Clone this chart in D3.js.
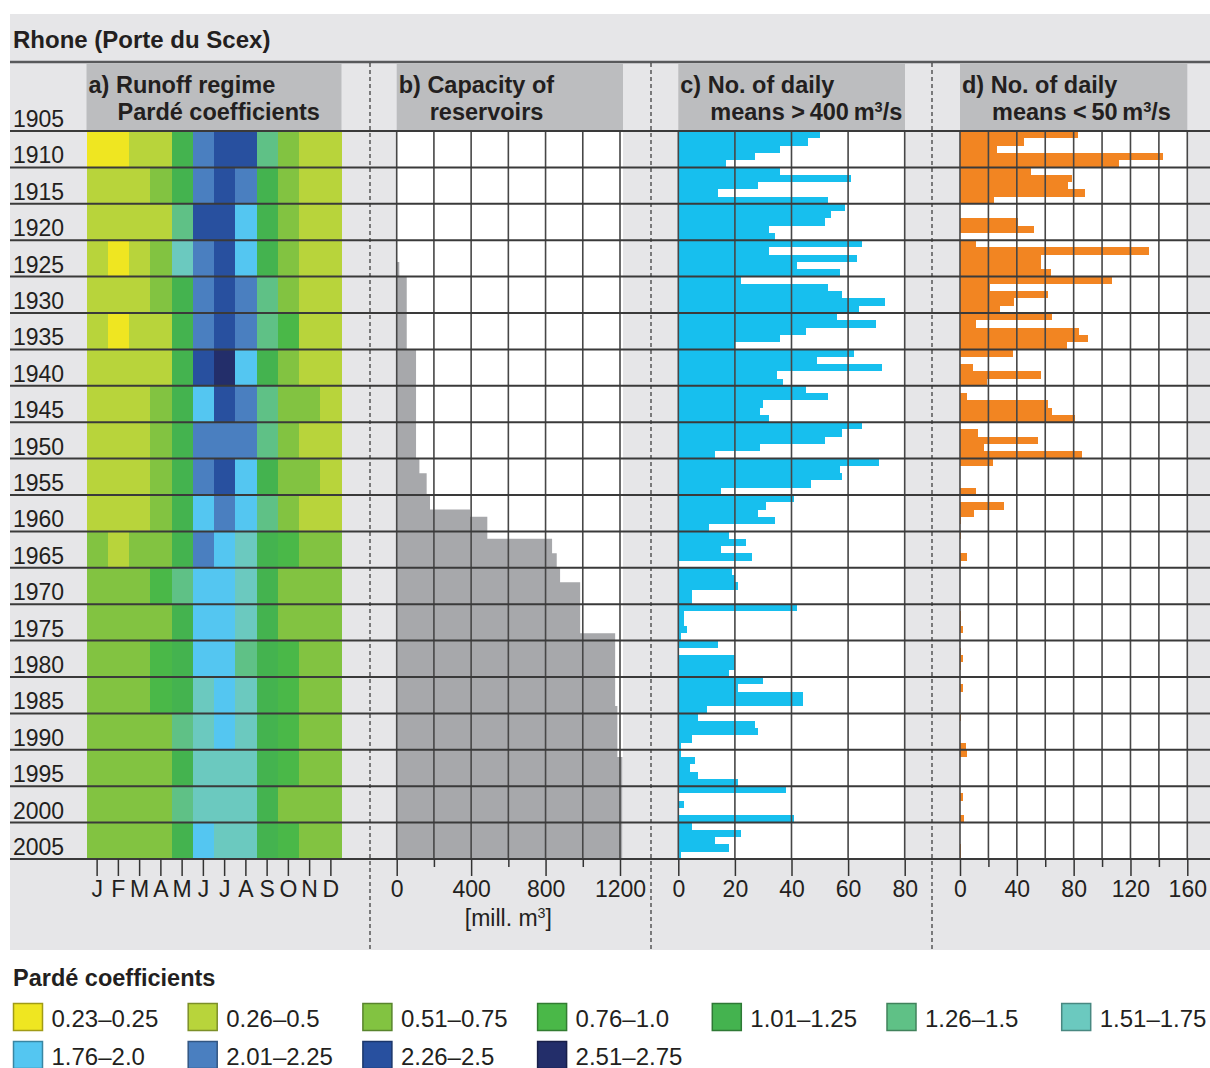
<!DOCTYPE html>
<html>
<head>
<meta charset="utf-8">
<script src="https://cdn.jsdelivr.net/npm/d3@7"></script>
<style>
  html, body { margin: 0; padding: 0; background: #ffffff; }
  svg { display: block; font-family: "Liberation Sans", Arial, Helvetica, sans-serif; }
</style>
</head>
<body>
<svg id="chart" width="1210" height="1068"></svg>
<script>
// ---------------------------------------------------------------------------
// Data
// ---------------------------------------------------------------------------
const monthLabels = ["J", "F", "M", "A", "M", "J", "J", "A", "S", "O", "N", "D"];
const periodTicks = d3.range(1905, 2006, 5);          // 1905, 1910, … 2005
const years = d3.range(1906, 2006);                   // 1906 … 2005

// Pardé coefficient classes
const pardeBreaks = [0.255, 0.505, 0.755, 1.005, 1.255, 1.505, 1.755, 2.005, 2.255, 2.505];
const pardeClassLabels = ["0.23–0.25", "0.26–0.5", "0.51–0.75", "0.76–1.0", "1.01–1.25",
  "1.26–1.5", "1.51–1.75", "1.76–2.0", "2.01–2.25", "2.26–2.5", "2.51–2.75"];
const pardeColors = ["#efe621", "#b8d43b", "#82c341", "#4ab848", "#44b34f",
  "#5fc186", "#6bc9bf", "#54c6f1", "#4a7fc0", "#28509f", "#232e6a"];

// Monthly Pardé coefficients (Jan–Dec) for each 5-year period 1906–1910 … 2001–2005
const pardeCoefficients = [
  [0.24, 0.24, 0.40, 0.40, 1.15, 2.10, 2.40, 2.40, 1.40, 0.65, 0.40, 0.40],
  [0.40, 0.40, 0.40, 0.65, 1.15, 2.10, 2.40, 2.10, 1.15, 0.65, 0.40, 0.40],
  [0.40, 0.40, 0.40, 0.40, 1.40, 2.40, 2.40, 1.90, 1.15, 0.65, 0.40, 0.40],
  [0.40, 0.24, 0.40, 0.65, 1.60, 2.10, 2.40, 1.90, 1.15, 0.65, 0.40, 0.40],
  [0.40, 0.40, 0.40, 0.65, 1.15, 2.10, 2.40, 2.10, 1.40, 0.65, 0.40, 0.40],
  [0.40, 0.24, 0.40, 0.40, 1.15, 2.10, 2.40, 2.10, 1.40, 0.90, 0.40, 0.40],
  [0.40, 0.40, 0.40, 0.40, 1.15, 2.40, 2.60, 1.90, 1.15, 0.65, 0.40, 0.40],
  [0.40, 0.40, 0.40, 0.65, 1.15, 1.90, 2.40, 2.10, 1.40, 0.65, 0.65, 0.40],
  [0.40, 0.40, 0.40, 0.65, 1.15, 2.10, 2.10, 2.10, 1.40, 0.65, 0.40, 0.40],
  [0.40, 0.40, 0.40, 0.65, 1.15, 2.10, 2.40, 1.90, 1.15, 0.65, 0.65, 0.40],
  [0.40, 0.40, 0.40, 0.65, 1.15, 1.90, 2.10, 1.90, 1.40, 0.65, 0.40, 0.40],
  [0.65, 0.40, 0.65, 0.65, 1.15, 2.10, 1.90, 1.60, 1.15, 0.90, 0.65, 0.65],
  [0.65, 0.65, 0.65, 0.90, 1.40, 1.90, 1.90, 1.60, 1.15, 0.65, 0.65, 0.65],
  [0.65, 0.65, 0.65, 0.65, 1.15, 1.90, 1.90, 1.60, 1.15, 0.65, 0.65, 0.65],
  [0.65, 0.65, 0.65, 0.90, 1.15, 1.90, 1.90, 1.40, 1.15, 0.90, 0.65, 0.65],
  [0.65, 0.65, 0.65, 0.90, 1.15, 1.60, 1.90, 1.60, 1.15, 0.90, 0.65, 0.65],
  [0.65, 0.65, 0.65, 0.65, 1.40, 1.60, 1.90, 1.60, 1.15, 0.90, 0.65, 0.65],
  [0.65, 0.65, 0.65, 0.65, 1.15, 1.60, 1.60, 1.60, 1.15, 0.90, 0.65, 0.65],
  [0.65, 0.65, 0.65, 0.65, 1.40, 1.60, 1.60, 1.60, 1.15, 0.65, 0.65, 0.65],
  [0.65, 0.65, 0.65, 0.65, 1.15, 1.90, 1.60, 1.60, 1.15, 0.90, 0.65, 0.65]
];

// Storage capacity of reservoirs in the catchment [mill. m³], 1906 … 2005
const reservoirCapacity = [
  0, 0, 0, 0, 0, 0, 0, 0, 0, 0,
  0, 0, 0, 0, 0, 0, 0, 0, 14, 14,
  54, 54, 54, 54, 54, 54, 54, 54, 54, 54,
  104, 104, 104, 104, 104, 104, 104, 104, 104, 104,
  104, 104, 104, 104, 104, 122, 122, 161, 161, 161,
  179, 179, 394, 487, 487, 487, 835, 835, 860, 860,
  878, 878, 986, 986, 986, 986, 986, 986, 986, 1174,
  1174, 1174, 1174, 1174, 1174, 1174, 1174, 1174, 1174, 1186,
  1186, 1186, 1186, 1186, 1186, 1186, 1213, 1213, 1213, 1213,
  1213, 1213, 1213, 1213, 1213, 1213, 1213, 1213, 1213, 1213
];

// Number of daily means > 400 m³/s per year, 1906 … 2005
const daysAbove400 = [
  50, 46, 36, 27, 17,   36, 61, 28, 14, 53,
  59, 54, 52, 32, 34,   65, 32, 63, 42, 57,
  22, 53, 58, 73, 64,   56, 70, 45, 36, 20,
  62, 49, 72, 35, 37,   45, 53, 30, 29, 32,
  65, 58, 52, 29, 13,   71, 57, 58, 47, 15,
  41, 31, 28, 34, 11,   18, 24, 15, 26, 0,
  19, 20, 21, 5, 5,     42, 2, 2, 3, 1,
  14, 0, 20, 20, 18,    30, 21, 44, 44, 10,
  7, 27, 28, 5, 1,      1, 6, 4, 7, 21,
  38, 0, 2, 0, 41,      5, 22, 13, 18, 1
];

// Number of daily means < 50 m³/s per year, 1906 … 2005
const daysBelow50 = [
  83, 45, 26, 143, 112, 50, 79, 76, 88, 24,
  0, 0, 41, 52, 0,      11, 133, 57, 57, 64,
  107, 21, 62, 38, 28,  65, 11, 84, 90, 75,
  37, 0, 9, 57, 19,     0, 5, 62, 65, 81,
  0, 13, 55, 17, 86,    23, 0, 0, 0, 11,
  0, 31, 10, 1, 0,      1, 0, 0, 5, 1,
  0, 0, 0, 0, 0,        0, 1, 1, 2, 0,
  0, 1, 2, 1, 0,        0, 2, 0, 0, 0,
  1, 0, 0, 0, 4,        5, 0, 0, 0, 0,
  0, 2, 0, 0, 3,        0, 0, 0, 1, 1
];

const capacityTicks = [0, 400, 800, 1200];
const capacityMinorTicks = [200, 600, 1000];
const highFlowTicks = [0, 20, 40, 60, 80];
const lowFlowTicks = [0, 40, 80, 120, 160];
const lowFlowMinorTicks = [20, 60, 100, 140];

// ---------------------------------------------------------------------------
// Layout and scales
// ---------------------------------------------------------------------------
const svg = d3.select("#chart");
const textColor = "#231f20";
const gridColor = "#474747";
const plotTop = 131, plotBottom = 859;

const y = d3.scaleLinear().domain([1905, 2005]).range([plotTop, plotBottom]);
const xMonth = d3.scaleBand().domain(d3.range(12)).range([86.5, 341.5]);
const xCap = d3.scaleLinear().domain([0, 1200]).range([396.7, 620]);
const xHigh = d3.scaleLinear().domain([0, 80]).range([678.3, 904.7]);
const xLow = d3.scaleLinear().domain([0, 160]).range([960, 1187.3]);
const pardeColor = d3.scaleThreshold().domain(pardeBreaks).range(pardeColors);

// Grey page backdrop
svg.append("rect").attr("x", 10).attr("y", 14).attr("width", 1200).attr("height", 936)
  .attr("fill", "#e6e6e8");

// Title
svg.append("text").attr("x", 13).attr("y", 48)
  .attr("font-size", 24).attr("font-weight", "bold").attr("fill", textColor)
  .text("Rhone (Porte du Scex)");
svg.append("line").attr("x1", 10).attr("x2", 1210).attr("y1", 62).attr("y2", 62)
  .attr("stroke", "#58595b").attr("stroke-width", 2.5);

// Panel headers
const headers = [
  { x0: 86.5, x1: 341.5, line1: [["a) Runoff regime"]], line2: [["Pardé coefficients"]], indent: 31 },
  { x0: 396.7, x1: 623, line1: [["b) Capacity of"]], line2: [["reservoirs"]], indent: 33 },
  { x0: 678.3, x1: 905, line1: [["c) No. of daily"]], line2: [["means >\u2009400\u2009m"], ["3", "sup"], ["/s", "after"]], indent: 32 },
  { x0: 960, x1: 1187.3, line1: [["d) No. of daily"]], line2: [["means <\u200950\u2009m"], ["3", "sup"], ["/s", "after"]], indent: 32 }
];

function writeParts(textSel, parts) {
  parts.forEach(([t, kind]) => {
    const ts = textSel.append("tspan").text(t);
    if (kind === "sup") ts.attr("font-size", "0.62em").attr("dy", "-0.55em");
    if (kind === "after") ts.attr("dy", "0.34em");
  });
}

headers.forEach(h => {
  svg.append("rect").attr("x", h.x0).attr("y", 63.5).attr("width", h.x1 - h.x0).attr("height", 66.5)
    .attr("fill", "#bcbdbf");
  const t1 = svg.append("text").attr("x", h.x0 + 2).attr("y", 93)
    .attr("font-size", 23.5).attr("font-weight", "bold").attr("fill", textColor);
  writeParts(t1, h.line1);
  const t2 = svg.append("text").attr("x", h.x0 + h.indent).attr("y", 120)
    .attr("font-size", 23.5).attr("font-weight", "bold").attr("fill", textColor);
  writeParts(t2, h.line2);
});

// White plotting areas for panels b–d
[[396.7, 623], [678.3, 904.7], [960, 1187.3]].forEach(([a, b]) => {
  svg.append("rect").attr("x", a).attr("y", plotTop).attr("width", b - a)
    .attr("height", plotBottom - plotTop).attr("fill", "#ffffff");
});

// ---------------------------------------------------------------------------
// a) Runoff regime – Pardé coefficients per period and month
// ---------------------------------------------------------------------------
const cells = [];
pardeCoefficients.forEach((row, p) => {
  row.forEach((v, m) => cells.push({ start: periodTicks[p], month: m, value: v }));
});
svg.append("g").attr("shape-rendering", "crispEdges")
  .selectAll("rect").data(cells).join("rect")
  .attr("x", d => xMonth(d.month))
  .attr("y", d => y(d.start))
  .attr("width", xMonth.bandwidth())
  .attr("height", d => y(d.start + 5) - y(d.start))
  .attr("fill", d => pardeColor(d.value));

// ---------------------------------------------------------------------------
// b) Reservoir capacity (step area)
// ---------------------------------------------------------------------------
const capSteps = years.map((yr, i) => ({ pos: y(yr - 1), v: reservoirCapacity[i] }));
capSteps.push({ pos: y(2005), v: reservoirCapacity[reservoirCapacity.length - 1] });
svg.append("path").datum(capSteps)
  .attr("fill", "#a7a8ab")
  .attr("d", d3.area().y(d => d.pos).x0(xCap(0)).x1(d => xCap(d.v)).curve(d3.curveStepBefore));

// ---------------------------------------------------------------------------
// c) and d) Annual counts of high- and low-flow days
// ---------------------------------------------------------------------------
function yearBars(values, scale, fill) {
  svg.append("g").attr("shape-rendering", "crispEdges")
    .selectAll("rect").data(years.map((yr, i) => ({ yr, v: values[i] })).filter(d => d.v > 0))
    .join("rect")
    .attr("x", scale(0))
    .attr("y", d => y(d.yr - 1))
    .attr("width", d => scale(d.v) - scale(0))
    .attr("height", d => y(d.yr) - y(d.yr - 1))
    .attr("fill", fill);
}
yearBars(daysAbove400, xHigh, "#17bfee");
yearBars(daysBelow50, xLow, "#f28522");

// ---------------------------------------------------------------------------
// Grid lines
// ---------------------------------------------------------------------------
const vGrid = [
  ...d3.range(0, 1201, 200).map(v => xCap(v)),
  ...highFlowTicks.map(v => xHigh(v)),
  ...d3.range(0, 161, 20).map(v => xLow(v))
];
svg.append("g").selectAll("line").data(vGrid).join("line")
  .attr("x1", d => d).attr("x2", d => d)
  .attr("y1", plotTop).attr("y2", plotBottom)
  .attr("stroke", gridColor).attr("stroke-width", 1.6);

svg.append("g").selectAll("line").data(periodTicks).join("line")
  .attr("x1", 10).attr("x2", 1210)
  .attr("y1", d => y(d)).attr("y2", d => y(d))
  .attr("stroke", "#3a3a3a").attr("stroke-width", 2);

// Dashed panel separators
[370, 651, 932].forEach(x => {
  svg.append("line").attr("x1", x).attr("x2", x).attr("y1", 63).attr("y2", 950)
    .attr("stroke", "#333333").attr("stroke-width", 1.2).attr("stroke-dasharray", "4,3");
});

// ---------------------------------------------------------------------------
// Axes
// ---------------------------------------------------------------------------
function styleAxis(g) {
  g.select(".domain").remove();
  g.selectAll(".tick line").attr("stroke", "#333333").attr("stroke-width", 1.5);
  g.selectAll(".tick text").attr("font-size", 23).attr("fill", textColor)
    .attr("font-family", "\"Liberation Sans\", Arial, sans-serif");
}
function addAxis(scale, values, size, fmt) {
  const g = svg.append("g").attr("transform", `translate(0,${plotBottom})`)
    .call(d3.axisBottom(scale).tickValues(values).tickSize(size).tickPadding(5).tickFormat(fmt));
  styleAxis(g);
  return g;
}
addAxis(xMonth, d3.range(12), 17, i => monthLabels[i]);
addAxis(xCap, capacityTicks, 17, d3.format("d"));
addAxis(xCap, capacityMinorTicks, 8, () => "");
addAxis(xHigh, highFlowTicks, 17, d3.format("d"));
addAxis(xLow, lowFlowTicks, 17, d3.format("d"));
addAxis(xLow, lowFlowMinorTicks, 8, () => "");

const unit = svg.append("text").attr("x", xCap(600)).attr("y", 926)
  .attr("text-anchor", "middle").attr("font-size", 23).attr("fill", textColor);
unit.append("tspan").text("[mill. m");
unit.append("tspan").attr("font-size", "0.62em").attr("dy", "-0.55em").text("3");
unit.append("tspan").attr("dy", "0.34em").text("]");

// Period labels
svg.append("g").selectAll("text").data(periodTicks).join("text")
  .attr("x", 13).attr("y", d => y(d) - 4)
  .attr("font-size", 23).attr("fill", textColor)
  .text(d => d);

// ---------------------------------------------------------------------------
// Legend
// ---------------------------------------------------------------------------
svg.append("text").attr("x", 13).attr("y", 986)
  .attr("font-size", 23.5).attr("font-weight", "bold").attr("fill", textColor)
  .text("Pardé coefficients");

const legend = svg.append("g").selectAll("g").data(pardeClassLabels).join("g")
  .attr("transform", (d, i) => {
    const col = i < 7 ? i : i - 7, row = i < 7 ? 0 : 1;
    return `translate(${13.5 + col * 174.7},${1003.5 + row * 38})`;
  });
legend.append("rect").attr("width", 29).attr("height", 27)
  .attr("fill", (d, i) => pardeColors[i])
  .attr("stroke", (d, i) => d3.color(pardeColors[i]).darker(1.1))
  .attr("stroke-width", 1.5);
legend.append("text").attr("x", 38).attr("y", 23)
  .attr("font-size", 24).attr("fill", textColor)
  .text(d => d);
</script>
</body>
</html>
